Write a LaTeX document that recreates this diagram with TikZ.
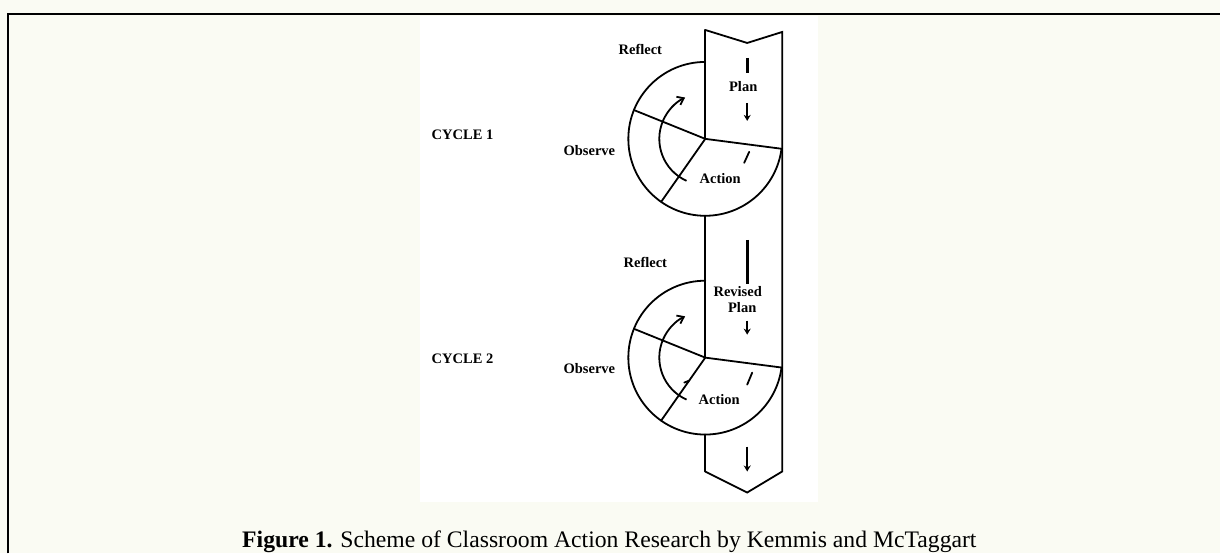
\documentclass[tikz,border=0pt]{standalone}
\usepackage{fontspec}
\setmainfont{Liberation Serif}
\usetikzlibrary{arrows.meta,calc}
\definecolor{paper}{RGB}{250,251,243}
\def\cycles{{139/1/641/50/590/151/721/179/463/135}, {358/2/646/263/590/369/720/400/463/359}}
\tikzstyle{line}=[draw,line width=1.8pt,line cap=round]
\tikzstyle{bar}=[draw,line width=2.8pt]
\tikzstyle{turn}=[draw,line width=1.8pt,-{Straight Barb[length=6pt,width=9pt,line width=1.8pt]}]
\tikzstyle{down}=[draw,line width=2pt,-{Stealth[length=6pt,width=7pt]}]
\tikzstyle{label}=[font=\fontsize{14.5}{16}\selectfont\bfseries,inner sep=0pt]
\tikzstyle{caption}=[font=\fontsize{23.7}{27}\selectfont,inner sep=0pt,anchor=base]

\begin{document}
\begin{tikzpicture}[x=1pt,y=-1pt]
  % Background, white panel and frame
  \fill[paper] (0,0) rectangle (1221,554);
  \fill[white] (420,16) rectangle (819,503);
  \draw[line width=2.6pt] (8,554) -- (8,14) -- (1221,14);

  % The column with its notched top and pointed bottom
  \coordinate (top-l) at (706,30);
  \coordinate (notch) at (748,43);
  \coordinate (top-r) at (783,32);
  \coordinate (bot-l) at (706,472);
  \coordinate (tip) at (748,493);
  \coordinate (bot-r) at (783,472);
  \path[line] (top-l) -- (notch) -- (top-r) -- (bot-r) -- (tip) -- (bot-l);

  % One circle for each cycle
  \foreach \y/\n/\rx/\ry/\ox/\oy/\ax/\ay/\cx/\cy in \cycles {
    \coordinate (hub\n) at (706,\y);
    \coordinate (up\n) at ($(hub\n)+(270:77)$);
    \coordinate (down\n) at ($(hub\n)+(90:77)$);
    \coordinate (west\n) at ($(hub\n)+(202:77)$);
    \coordinate (south\n) at ($(hub\n)+(125:77)$);
    \coordinate (east\n) at ($(hub\n)+(7.4:77)$);
    \path[line] (up\n) arc[start angle=270,end angle=7.4,radius=77];
    \path[line] (west\n) -- (hub\n) -- (east\n);
    \path[line] (hub\n) -- (south\n);
    \path[turn] ($(hub\n)+(114:46)$) arc[start angle=114,end angle=244,radius=46];

    \node[label] (reflect\n) at (\rx,\ry) {Reflect};
    \node[label] (observe\n) at (\ox,\oy) {Observe};
    \node[label] (action\n) at (\ax,\ay) {Action};
    \node[label] (cycle\n) at (\cx,\cy) {CYCLE \n};
  }

  % Left side of the column between the circles
  \path[line] (top-l) -- (hub1);
  \path[line] (down1) -- (hub2);
  \path[line] (down2) -- (bot-l);

  % Plan steps inside the column
  \node[label] (plan1) at (744,87) {Plan};
  \node[label,align=center] (plan2) at (743,300) {\hspace*{-9pt}Revised\\Plan};
  \path[bar] (748,58) -- (748,73);
  \path[bar] (748,240) -- (748,284);
  \path[down] (748,103) -- (748,121);
  \path[down] (748,321) -- (748,335);
  \path[down] (748,447) -- (748,472);
  \path[line] (750,152) -- (745,163);
  \path[line] (753,373) -- (748,385);
  \path[line] (685,383) -- (690,381);

  % Caption
  \node[caption] (caption) at (610,548) {\textbf{Figure 1.} Scheme of Classroom Action Research by Kemmis and McTaggart};
\end{tikzpicture}
\end{document}
